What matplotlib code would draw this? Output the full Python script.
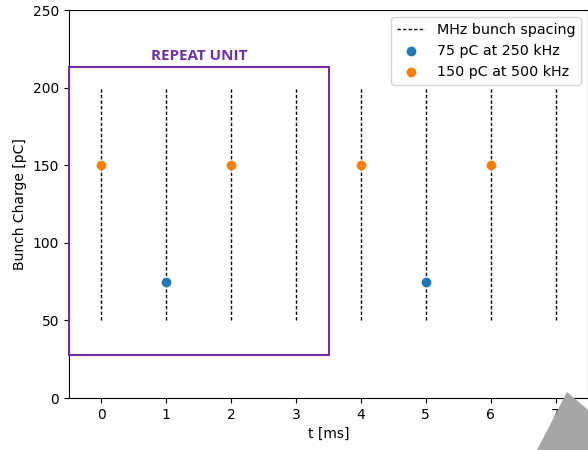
import matplotlib.pyplot as plt
from matplotlib.patches import Rectangle, Polygon

# bunch spacing lines
spacing_t = [0, 1, 2, 3, 4, 5, 6, 7]
line_lo, line_hi = 50, 200

# bunches
t_75 = [1, 5]
q_75 = [75, 75]
t_150 = [0, 2, 4, 6]
q_150 = [150, 150, 150, 150]

# repeat unit box
box_t = (-0.5, 3.5)
box_q = (28, 213)

fig = plt.figure(figsize=(5.88, 4.5), dpi=100)
ax = fig.add_axes([69/588, 52/450, 519/588, 388/450])

ax.vlines(spacing_t, line_lo, line_hi, colors='black', linestyles=(0, (2.4, 1.6)), linewidth=1,
          label='MHz bunch spacing')
ax.scatter(t_75, q_75, color='tab:blue', zorder=3, label='75 pC at 250 kHz')
ax.scatter(t_150, q_150, color='tab:orange', zorder=3, label='150 pC at 500 kHz')

purple = '#7030A0'
ax.add_patch(Rectangle((box_t[0], box_q[0]), box_t[1] - box_t[0], box_q[1] - box_q[0],
                       fill=False, edgecolor=purple, linewidth=1.5, clip_on=False, zorder=4))
ax.text(sum(box_t) / 2, 218, 'REPEAT UNIT', color=purple, fontweight='bold',
        family='Open Sans', fontsize=11, ha='center', va='baseline')

ax.set_xlim(-0.5, 7.5)
ax.set_ylim(0, 250)
ax.set_xlabel('t [ms]')
ax.set_ylabel('Bunch Charge [pC]')
ax.legend(loc='upper right', fontsize=10.3)

# grey screenshot artifact in the corner
fig.patches.append(Polygon([[567/588, 1 - 392/450], [537/588, 0], [600/588, 0], [600/588, 1 - 420/450]],
                           closed=True, transform=fig.transFigure, facecolor='#a6a6a6',
                           edgecolor='none', zorder=10))

fig.savefig('out.png', dpi=100)
